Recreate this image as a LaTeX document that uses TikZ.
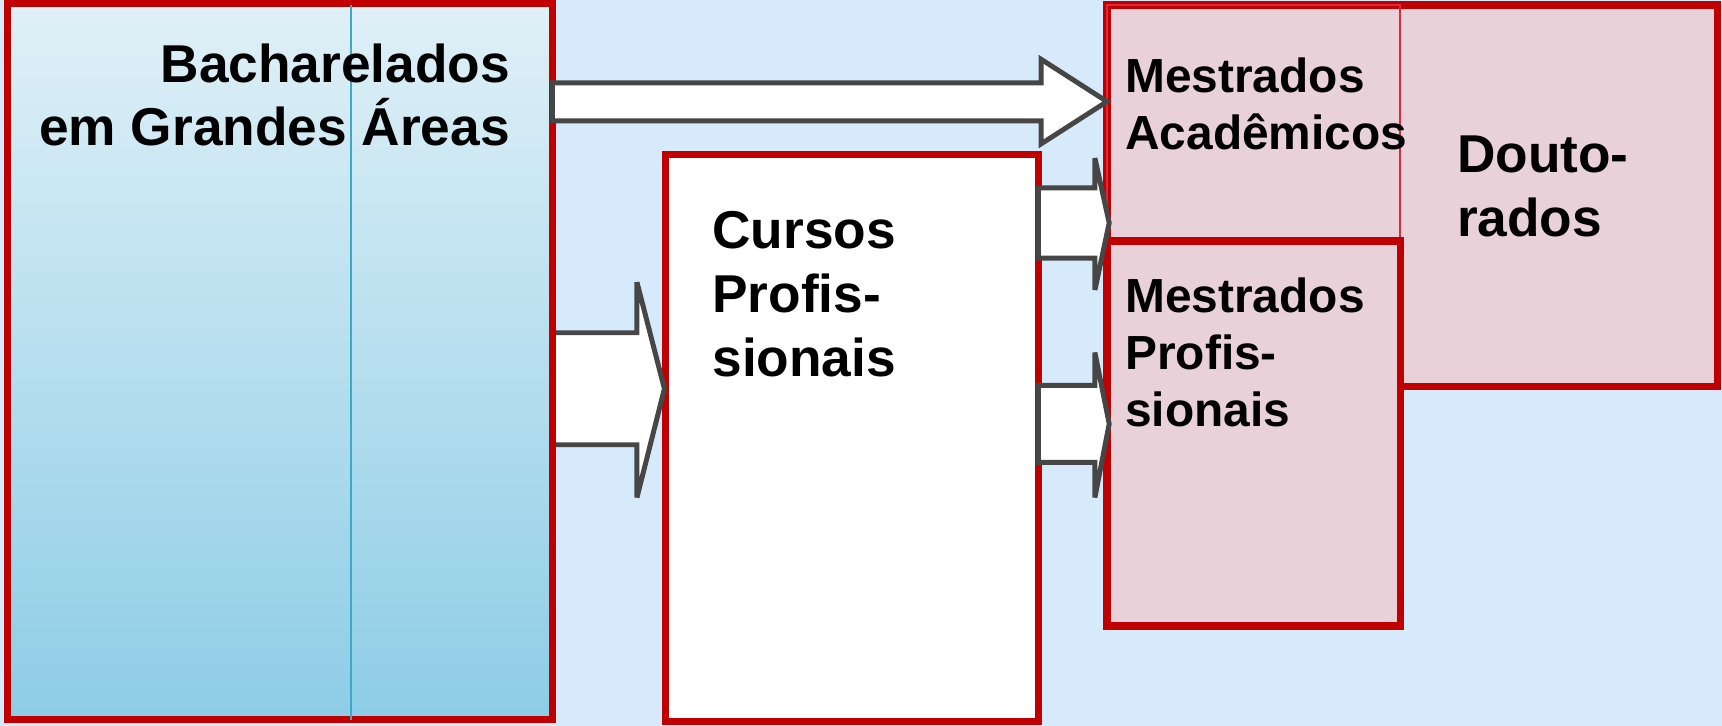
\documentclass[tikz,border=0pt]{standalone}
\usepackage{fontspec}
\setmainfont{Liberation Sans}
\definecolor{sky}{RGB}{214,234,251}
\definecolor{boxred}{RGB}{192,0,0}
\definecolor{thinred}{RGB}{225,40,55}
\definecolor{rosefill}{RGB}{232,209,216}
\definecolor{bachtop}{RGB}{224,240,247}
\definecolor{bachbottom}{RGB}{141,205,230}
\definecolor{cyanline}{RGB}{58,170,200}
\definecolor{arrowgray}{RGB}{70,70,70}
\tikzset{
    box/.style =    {rectangle,
                    draw=boxred,
                    line width=0.65mm,
                    inner sep=0pt,
                    outer sep=0pt},
    bachbox/.style = {box,
                    top color=bachtop,
                    bottom color=bachbottom},
    whitebox/.style = {box,
                    fill=white},
    rosebox/.style = {box,
                    fill=rosefill},
    thinbox/.style = {rectangle,
                    draw=thinred,
                    line width=0.2mm,
                    inner sep=0pt},
    bigtext/.style = {inner sep=0pt,
                    text=black,
                    font=\fontsize{13.8}{16.5}\selectfont\bfseries},
    smalltext/.style = {inner sep=0pt,
                    text=black,
                    font=\fontsize{12.4}{14.8}\selectfont\bfseries},
    block/.style =  {draw=arrowgray,
                    fill=white,
                    line width=0.45mm,
                    miter limit=4},
    -,
    x=0.1mm,
    y=-0.1mm}

\begin{document}
\begin{tikzpicture}
    % background
    \fill[sky] (0,0) rectangle (1568,661);
    \useasboundingbox (0,0) rectangle (1568,661);

    \node[whitebox, minimum width=33.95mm, minimum height=51.6mm] (cursos) at (775.75,399) {};
    % arrow into the professional courses
    \filldraw[block] (505,303) -- (580,303) -- (580,257) -- (605,354) -- (580,453) -- (580,405) -- (505,405);

    \node[bachbox, minimum width=49.6mm, minimum height=65.2mm] (bach) at (255,329) {};
    \draw[cyanline, line width=0.18mm] (320,5) -- (320,656);

    \node[rosebox, minimum width=55.6mm, minimum height=34.75mm] (dout) at (1286,178.25) {};
    \node[thinbox, minimum width=26.7mm, minimum height=21.5mm] (macad) at (1141.5,112) {};
    \node[rosebox, minimum width=26.7mm, minimum height=35.05mm] (mprof) at (1141.5,394.75) {};

    % base anchor sits on the last line
    \node[bigtext, align=right, anchor=base east] (bachtxt) at (465,132.7) {Bacharelados\\em Grandes Áreas};
    \node[bigtext, align=left, anchor=base west] (cursostxt) at (648,342.5) {Cursos\\Profis-\\sionais};
    \node[smalltext, align=left, anchor=base west] (macadtxt) at (1024,136) {Mestrados\\Acadêmicos};
    \node[smalltext, align=left, anchor=base west] (mproftxt) at (1024,388.5) {Mestrados\\Profis-\\sionais};
    \node[bigtext, align=left, anchor=base west] (douttxt) at (1326,215) {Douto-\\rados};

    % block arrows
    \path[block]    (bach.east |- 0,75.5) -- (948,75.5) -- (948,54) -- (dout.west |- 0,92.5)
                    -- (948,131) -- (948,110) -- (bach.east |- 0,110) -- cycle;
    \path[block]    (cursos.east |- 0,171) -- (997,171) -- (997,144) -- (1010,203)
                    -- (997,264) -- (997,235) -- (cursos.east |- 0,235) -- cycle;
    \path[block]    (cursos.east |- 0,351) -- (997,351) -- (997,321) -- (1010,386)
                    -- (997,453) -- (997,421) -- (cursos.east |- 0,421) -- cycle;
\end{tikzpicture}
\end{document}
